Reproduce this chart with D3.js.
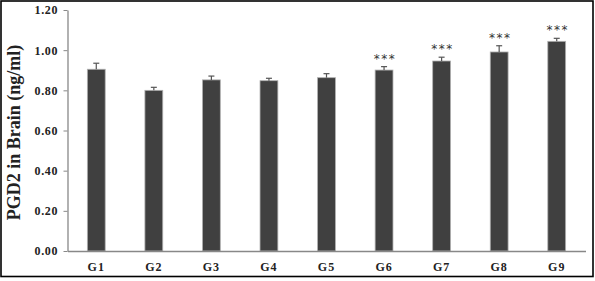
<!DOCTYPE html>
<html>
<head>
<meta charset="utf-8">
<script src="https://cdn.jsdelivr.net/npm/d3@7"></script>
<style>
  body { margin: 0; background: #fff; }
  svg { display: block; }
  .tick text { font-family: "Liberation Serif", "Times New Roman", serif; font-weight: bold; }
</style>
</head>
<body>
<svg id="chart" width="595" height="281"></svg>
<script>
// values
const groups = ['G1', 'G2', 'G3', 'G4', 'G5', 'G6', 'G7', 'G8', 'G9'];
const means = [0.905, 0.800, 0.852, 0.848, 0.863, 0.901, 0.946, 0.991, 1.044];
const errors = [0.030, 0.015, 0.019, 0.012, 0.020, 0.017, 0.019, 0.031, 0.015];
const stars = ['', '', '', '', '', '***', '***', '***', '***'];
const yTicks = [0, 0.2, 0.4, 0.6, 0.8, 1.0, 1.2];

const svg = d3.select('#chart');

// frame
svg.append('rect')
    .attr('x', 1).attr('y', 1)
    .attr('width', 592).attr('height', 275.5)
    .attr('fill', 'none')
    .attr('stroke', '#000')
    .attr('stroke-width', 1.6);

const x = d3.scaleBand()
    .domain(groups)
    .range([67.5, 585.5])
    .paddingInner(0.69)
    .paddingOuter(0.345);

const y = d3.scaleLinear()
    .domain([0, 1.2])
    .range([251, 10]);

// bars
svg.append('g')
    .selectAll('rect')
    .data(groups)
    .enter().append('rect')
    .attr('x', d => x(d))
    .attr('y', (d, i) => y(means[i]))
    .attr('width', x.bandwidth())
    .attr('height', (d, i) => y(0) - y(means[i]))
    .attr('fill', '#404040')
    .attr('stroke', '#b0b0b0')
    .attr('stroke-width', 0.8);

// error bars (upper only)
const err = svg.append('g')
    .attr('stroke', '#555')
    .attr('stroke-width', 1.2);

groups.forEach((g, i) => {
    const cx = x(g) + x.bandwidth() / 2;
    err.append('line')
        .attr('x1', cx).attr('x2', cx)
        .attr('y1', y(means[i])).attr('y2', y(means[i] + errors[i]));
    err.append('line')
        .attr('x1', cx - 3).attr('x2', cx + 3)
        .attr('y1', y(means[i] + errors[i])).attr('y2', y(means[i] + errors[i]));
});

// significance stars
svg.append('g')
    .selectAll('text')
    .data(groups)
    .enter().append('text')
    .attr('x', d => x(d) + x.bandwidth() / 2 + 1)
    .attr('y', (d, i) => y(means[i] + errors[i]) - 4)
    .attr('text-anchor', 'middle')
    .style('font-family', '"DejaVu Sans", sans-serif')
    .style('font-size', '12px')
    .style('letter-spacing', '1.5px')
    .style('fill', '#333')
    .text((d, i) => stars[i]);

// y axis
const yAxis = svg.append('g')
    .attr('transform', 'translate(67.5,0)')
    .call(d3.axisLeft(y).tickValues(yTicks).tickFormat(d3.format('.2f')).tickSize(4).tickSizeOuter(0));
yAxis.select('.domain').attr('stroke', '#888').attr('stroke-width', 1.3);
yAxis.selectAll('.tick line').attr('stroke', '#888');
yAxis.selectAll('.tick text')
    .attr('x', -9.5)
    .style('font-size', '12px')
    .style('letter-spacing', '0.6px')
    .style('fill', '#222');

// x axis
const xAxis = svg.append('g')
    .attr('transform', 'translate(0,251)')
    .call(d3.axisBottom(x).tickSize(0).tickSizeOuter(0));
xAxis.select('.domain').attr('stroke', '#888').attr('stroke-width', 1.3);
xAxis.selectAll('.tick text')
    .attr('dy', '1.45em')
    .style('font-size', '12px')
    .style('letter-spacing', '1px')
    .style('fill', '#222');

// y label
svg.append('text')
    .attr('transform', 'translate(20,132.5) rotate(-90)')
    .attr('text-anchor', 'middle')
    .style('font-family', '"Liberation Serif", "Times New Roman", serif')
    .style('font-weight', 'bold')
    .style('font-size', '18px')
    .style('fill', '#222')
    .text('PGD2 in Brain (ng/ml)');
</script>
</body>
</html>
